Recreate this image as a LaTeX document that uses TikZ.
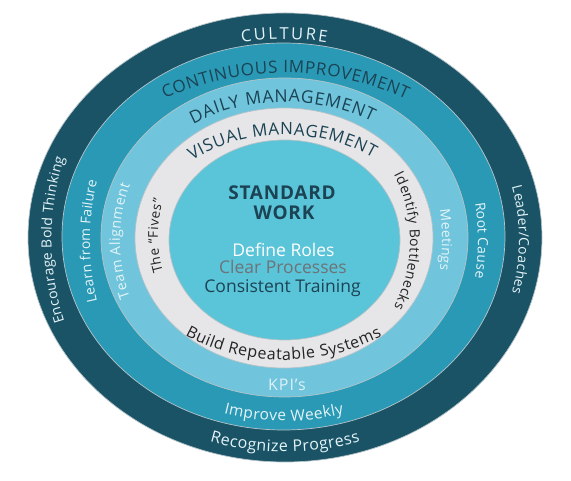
\documentclass[tikz,border=0pt]{standalone}
\usepackage{fontspec}
\setmainfont{Open Sans}
\usetikzlibrary{decorations.text}
\definecolor{cult}{HTML}{1A5366}
\definecolor{cont}{HTML}{2A99B5}
\definecolor{daily}{HTML}{70C5DC}
\definecolor{vis}{HTML}{E6E6E8}
\definecolor{core}{HTML}{5AC4D8}
\definecolor{ink}{HTML}{1B4354}
\definecolor{edgec}{HTML}{B5C3C8}
\definecolor{paleink}{HTML}{E4F4F8}
\definecolor{kpic}{HTML}{DDF1F7}
\definecolor{grayink}{HTML}{232323}
\definecolor{midgray}{HTML}{6E7377}
% #1 cx, #2 cy, #3 rx, #4 ry, #5 start angle, #6 end angle, #7 format, #8 text
\newcommand\ringtext[8]{%
  \path[decorate, decoration={text along path, text align={fit to path},
      text={|#7|#8}}]
    (#1,#2) ++(#5:#3pt and #4pt)
    arc[start angle=#5, end angle=#6, x radius=#3pt, y radius=#4pt];}
\newcommand\fs[1]{\fontsize{#1}{#1}\selectfont}
\begin{document}
\begin{tikzpicture}[x=1pt,y=1pt,
  ring/.style={draw=edgec, line width=0.7pt},
  core text/.style={anchor=base, font=\fs{17.5}}]
\useasboundingbox (0,0) rectangle (571,481);
\fill[white] (0,0) rectangle (571,481);
% rings
\path[ring, fill=cult]  (285,243.5)   ellipse [x radius=257pt,   y radius=224.5pt];
\path[ring, fill=cont]  (283.5,244.5) ellipse [x radius=221.5pt, y radius=193.5pt];
\path[ring, fill=daily] (284.5,243.5) ellipse [x radius=183.5pt, y radius=159.5pt];
\path[ring, fill=vis]   (284,243)     ellipse [x radius=149pt,   y radius=130pt];
\path[ring, fill=core]  (284.5,241)   ellipse [x radius=115.5pt, y radius=100pt];
% top texts
\ringtext{284.5}{245}{228}{197}{100.8}{79.3}{\fs{16.5}\color{paleink}}{CULTURE}
\ringtext{284.5}{188}{255}{220}{118}{61.5}{\fs{17}\color{ink}}{CONTINUOUS IMPROVEMENT}
\ringtext{284.5}{229}{175}{150}{121.5}{60}{\fs{17.5}\color{ink}}{DAILY MANAGEMENT}
\ringtext{284.5}{208}{160}{138}{125.3}{56.4}{\fs{17}\color{ink}}{VISUAL MANAGEMENT}
% bottom texts
\ringtext{284.5}{280}{185}{159}{237.5}{301.8}{\fs{16}\color{grayink}}{Build Repeatable Systems}
\ringtext{284.5}{250}{220}{190}{254}{285.7}{\fs{15.5}\color{paleink}}{Improve Weekly}
\ringtext{284.5}{236}{240}{207}{251.9}{288.4}{\fs{16}\color{paleink}}{Recognize Progress}
% left texts
\ringtext{284.5}{241}{233}{250}{199.1}{160.9}{\fs{14}\color{paleink}}{Encourage Bold Thinking}
\ringtext{284.5}{240}{194.5}{225}{195.5}{164.5}{\fs{13.8}\color{paleink}}{Learn from Failure}
\ringtext{284.5}{240}{164.5}{163}{200.1}{159.9}{\fs{14.2}\color{paleink}}{Team Alignment}
\ringtext{284.5}{245}{126.5}{129}{196.2}{163.8}{\fs{13.5}\color{grayink}}{The “Fives”}
% right texts
\ringtext{284.5}{241}{234.5}{218}{14.1}{-14.1}{\fs{13.8}\color{paleink}}{Leader/Coaches}
\ringtext{284.5}{240.5}{193.5}{220}{9.8}{-9.8}{\fs{13.8}\color{paleink}}{Root Cause}
\ringtext{284.5}{241}{157.5}{180}{9.6}{-9.6}{\fs{13.8}\color{paleink}}{Meetings}
\ringtext{284.5}{240}{125.5}{135}{29.3}{-29.3}{\fs{14}\color{grayink}}{Identify Bottlenecks}
% core texts
\node[anchor=base, text=ink, font=\bfseries\fs{19}\addfontfeature{LetterSpace=4}] (std) at (282,281) {STANDARD};
\node[anchor=base, text=ink, font=\bfseries\fs{19}\addfontfeature{LetterSpace=4}] (work) at (284,261) {WORK};
\node[core text, text=white] (roles) at (283.5,224) {Define Roles};
\node[core text, text=midgray] (proc) at (283,207) {Clear Processes};
\node[core text, text=ink] (train) at (282.5,188) {Consistent Training};
\node[anchor=base, text=kpic, font=\fs{16}\addfontfeature{LetterSpace=6}] (kpi) at (287,90) {KPI’s};
\end{tikzpicture}
\end{document}
